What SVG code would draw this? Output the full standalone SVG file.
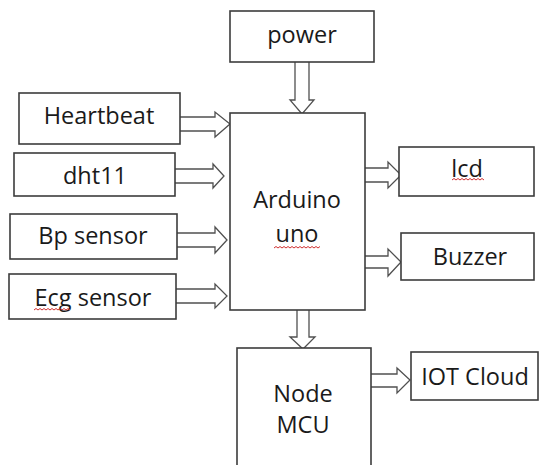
<svg xmlns="http://www.w3.org/2000/svg" width="539" height="465" viewBox="0 0 539 465">
<style>
.box{fill:#fff;stroke:#3c3c3c;stroke-width:1.6}
.arr{fill:#fff;stroke:#505050;stroke-width:1.3;stroke-linejoin:miter}
.t{font-family:"Open Sans","Noto Sans",sans-serif;font-size:23.5px;fill:#1a1a1a;text-anchor:middle}
.sq{fill:none;stroke:#d03030;stroke-width:1}
</style>
<rect width="539" height="465" fill="#fff"/>
<g id="connectors">
<path class="arr" d="M295,62 V100 H290 L302,114 L314,100 H309 V62"/>
<path class="arr" d="M180,117 H215 V112 L230,124 L215,137 V131 H180"/>
<path class="arr" d="M175,169 H213 V164 L224,176 L213,188 V183 H175"/>
<path class="arr" d="M177,233 H215 V227 L227,240 L215,253 V247 H177"/>
<path class="arr" d="M176,289 H215 V284 L227,296 L215,308 V303 H176"/>
<path class="arr" d="M365,168 H388 V162 L401,175 L388,188 V182 H365"/>
<path class="arr" d="M365,256 H388 V249 L401,262 L388,276 V268 H365"/>
<path class="arr" d="M297,310 V337 H290 L303,349 L315,337 H309 V310"/>
<path class="arr" d="M371,374 H397 V368 L410,380 L397,393 V387 H371"/>
</g>
<g id="power"><rect class="box" x="230" y="11" width="144" height="51"/><text class="t" x="302" y="43">power</text></g>
<g id="heartbeat"><rect class="box" x="19" y="93" width="161" height="51"/><text class="t" x="99" y="124">Heartbeat</text></g>
<g id="dht11"><rect class="box" x="14" y="153" width="161" height="43"/><text class="t" x="95" y="184">dht11</text></g>
<g id="bp"><rect class="box" x="10" y="214" width="167" height="45"/><text class="t" x="93" y="244">Bp sensor</text></g>
<g id="ecg"><rect class="box" x="9" y="274" width="167" height="45"/><text class="t" x="93" y="306">Ecg sensor</text>
<path class="sq" d="M34,310 l2,-1.5 l2,1.5 l2,-1.5 l2,1.5 l2,-1.5 l2,1.5 l2,-1.5 l2,1.5 l2,-1.5 l2,1.5 l2,-1.5 l2,1.5 l2,-1.5 l2,1.5 l2,-1.5 l2,1.5 l2,-1.5 l2,1.5"/></g>
<g id="arduino"><rect class="box" x="230" y="113" width="135" height="197"/><text class="t" x="297" y="208">Arduino</text><text class="t" x="297" y="242">uno</text>
<path class="sq" d="M274,248 l2,-1.5 l2,1.5 l2,-1.5 l2,1.5 l2,-1.5 l2,1.5 l2,-1.5 l2,1.5 l2,-1.5 l2,1.5 l2,-1.5 l2,1.5 l2,-1.5 l2,1.5 l2,-1.5 l2,1.5 l2,-1.5 l2,1.5 l2,-1.5 l2,1.5 l2,-1.5 l2,1.5 l2,-1.5"/></g>
<g id="lcd"><rect class="box" x="399" y="147" width="135" height="49"/><text class="t" x="467" y="177">lcd</text>
<path class="sq" d="M452,180 l2,-1.5 l2,1.5 l2,-1.5 l2,1.5 l2,-1.5 l2,1.5 l2,-1.5 l2,1.5 l2,-1.5 l2,1.5 l2,-1.5 l2,1.5 l2,-1.5 l2,1.5 l2,-1.5 l2,1.5"/></g>
<g id="buzzer"><rect class="box" x="401" y="233" width="133" height="47"/><text class="t" x="470" y="265">Buzzer</text></g>
<g id="nodemcu"><rect class="box" x="237" y="348" width="134" height="130"/><text class="t" x="303" y="402">Node</text><text class="t" x="303" y="433">MCU</text></g>
<g id="iot"><rect class="box" x="411" y="352" width="127" height="48"/><text class="t" x="475" y="385">IOT Cloud</text></g>
</svg>
